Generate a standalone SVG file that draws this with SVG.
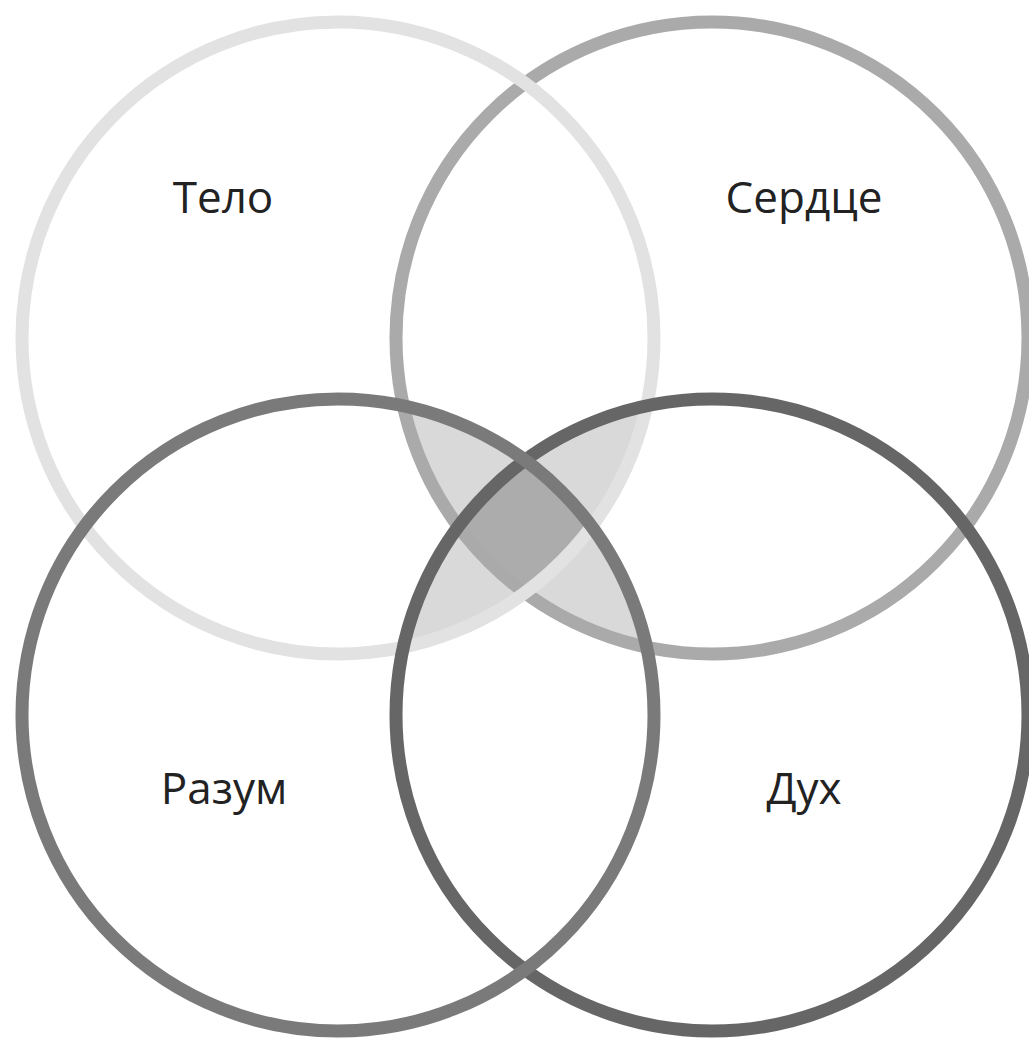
<svg xmlns="http://www.w3.org/2000/svg" width="1029" height="1039" viewBox="0 0 1029 1039">
<style>
.ring{fill:none;stroke-width:13}
.lbl{font-family:"Open Sans","Noto Sans","DejaVu Sans",sans-serif;font-size:44px;fill:#222;text-anchor:middle}
</style>
<defs>
<clipPath id="c1"><circle cx="338" cy="338" r="316"/></clipPath>
<clipPath id="c2"><circle cx="712" cy="338" r="316"/></clipPath>
<clipPath id="c3"><circle cx="338" cy="715" r="316"/></clipPath>
<clipPath id="c4"><circle cx="712" cy="715" r="316"/></clipPath>
</defs>
<rect width="1029" height="1039" fill="#fff"/>
<g id="overlaps">
<g clip-path="url(#c1)"><g clip-path="url(#c2)"><circle cx="338" cy="715" r="316" fill="#d9d9d9"/></g></g>
<g clip-path="url(#c1)"><g clip-path="url(#c2)"><circle cx="712" cy="715" r="316" fill="#d9d9d9"/></g></g>
<g clip-path="url(#c1)"><g clip-path="url(#c3)"><circle cx="712" cy="715" r="316" fill="#d9d9d9"/></g></g>
<g clip-path="url(#c2)"><g clip-path="url(#c3)"><circle cx="712" cy="715" r="316" fill="#d9d9d9"/></g></g>
<g clip-path="url(#c1)"><g clip-path="url(#c2)"><g clip-path="url(#c3)"><circle cx="712" cy="715" r="316" fill="#acacac"/></g></g></g>
</g>
<g id="node-serdtse"><circle class="ring" cx="712" cy="338" r="316" stroke="#aaaaaa"/><text class="lbl" x="804" y="213">Сердце</text></g>
<g id="node-telo"><circle class="ring" cx="338" cy="338" r="316" stroke="#e2e2e2"/><text class="lbl" x="223" y="213">Тело</text></g>
<g id="node-dukh"><circle class="ring" cx="712" cy="715" r="316" stroke="#666666"/><text class="lbl" x="804" y="804">Дух</text></g>
<g id="node-razum"><circle class="ring" cx="338" cy="715" r="316" stroke="#7a7a7a"/><text class="lbl" x="224" y="804">Разум</text></g>
<g id="connectors"></g>
</svg>
